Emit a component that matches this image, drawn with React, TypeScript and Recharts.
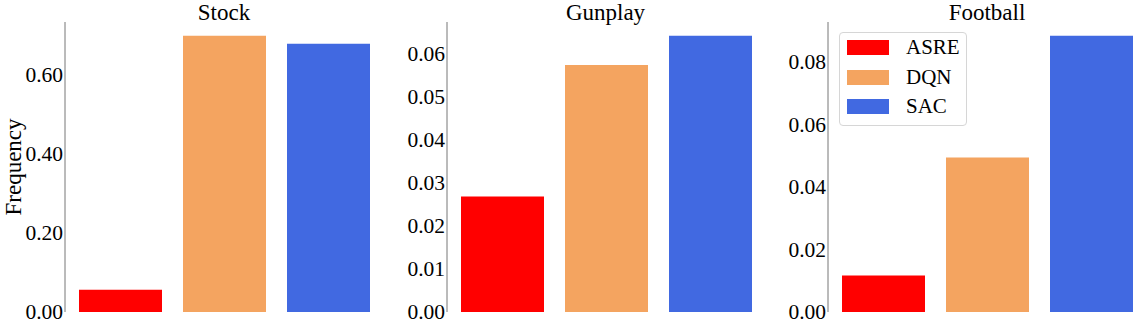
import React from 'react';
import { BarChart, Bar, XAxis, YAxis, Cell, Legend } from 'recharts';

const methods = ['ASRE', 'DQN', 'SAC'];
const methodColors = ['#ff0000', '#f4a460', '#4169e1'];

const panelTitles = ['Stock', 'Gunplay', 'Football'];
const stockValues = [0.0561, 0.697, 0.677];
const gunplayValues = [0.0268, 0.0573, 0.0641];
const footballValues = [0.0117, 0.0494, 0.0883];

const stockTicks = [0, 0.2, 0.4, 0.6];
const gunplayTicks = [0, 0.01, 0.02, 0.03, 0.04, 0.05, 0.06];
const footballTicks = [0, 0.02, 0.04, 0.06, 0.08];

const FONT = 'Liberation Serif, Times New Roman, serif';
const PLOT_W = 318;
const AXIS_W = 65;
const H = 323;

const panels = [
  { title: panelTitles[0], values: stockValues, ticks: stockTicks, left: 65, ylabel: true, legend: false },
  { title: panelTitles[1], values: gunplayValues, ticks: gunplayTicks, left: 446.5, ylabel: false, legend: false },
  { title: panelTitles[2], values: footballValues, ticks: footballTicks, left: 828, ylabel: false, legend: true },
];

const LegendBox = () => (
  <div
    style={{
      width: 126,
      height: 92,
      border: '1px solid #d6d6d6',
      borderRadius: 4,
      background: 'rgba(255,255,255,0.85)',
      fontFamily: FONT,
      fontSize: 21,
      color: '#000',
      boxSizing: 'content-box',
      position: 'relative',
    }}
  >
    {methods.map((m, i) => (
      <div key={m} style={{ position: 'absolute', left: 7, top: 7 + i * 29.7, height: 15, display: 'flex', alignItems: 'center' }}>
        <div style={{ width: 42, height: 15, background: methodColors[i] }} />
        <span style={{ marginLeft: 17, lineHeight: '15px' }}>{m}</span>
      </div>
    ))}
  </div>
);

const YTick = (props: any) => {
  const { x, y, payload } = props;
  return (
    <text x={x} y={y} dy="0.34em" textAnchor="end" fontFamily={FONT} fontSize={21.5} fill="#000">
      {Number(payload.value).toFixed(2)}
    </text>
  );
};

const Panel = ({ p }: { p: (typeof panels)[number] }) => {
  const data = methods.map((m, i) => ({ method: m, value: p.values[i] }));
  const chartLeft = p.left - AXIS_W;
  return (
    <div style={{ position: 'absolute', left: chartLeft, top: 0, width: AXIS_W + PLOT_W, height: H, fontFamily: FONT }}>
      <div
        style={{
          position: 'absolute',
          left: AXIS_W,
          width: PLOT_W,
          top: 0,
          lineHeight: 'normal',
          textAlign: 'center',
          fontFamily: FONT,
          fontSize: 23,
          color: '#000',
        }}
      >
        {p.title}
      </div>
      <BarChart width={AXIS_W + PLOT_W} height={H} data={data} margin={{ top: 22, right: 0, bottom: 11, left: 0 }}>
        <XAxis
          dataKey="method"
          height={0}
          tick={false}
          tickLine={false}
          axisLine={{ stroke: '#222', strokeWidth: 1 }}
          padding={{ left: 3, right: 3 }}
        />
        <YAxis
          width={AXIS_W}
          type="number"
          domain={[0, (max: number) => max * 1.05]}
          ticks={p.ticks}
          interval={0}
          tickLine={false}
          tickSize={0}
          tickMargin={2}
          axisLine={{ stroke: '#777', strokeWidth: 1 }}
          tick={YTick}
          label={
            p.ylabel
              ? {
                  content: (props: any) => {
                    const vb = props.viewBox || { x: 0, y: 22, height: 290 };
                    const x = vb.x + 20.5;
                    const y = vb.y + vb.height / 2;
                    return (
                      <text
                        x={x}
                        y={y}
                        transform={`rotate(-90 ${x} ${y})`}
                        textAnchor="middle"
                        fontFamily={FONT}
                        fontSize={23}
                        fill="#000"
                      >
                        Frequency
                      </text>
                    );
                  },
                }
              : undefined
          }
        />
        {p.legend && (
          <Legend
            layout="vertical"
            align="center"
            verticalAlign="middle"
            content={() => <LegendBox />}
            wrapperStyle={{ left: 839 - chartLeft, top: 32, width: 128, height: 94 }}
          />
        )}
        <Bar dataKey="value" barSize={83} isAnimationActive={false}>
          {data.map((d, i) => (
            <Cell key={d.method} fill={methodColors[i]} />
          ))}
        </Bar>
      </BarChart>
    </div>
  );
};

export default function App() {
  return (
    <div style={{ position: 'absolute', left: 0, top: 0, width: 1146, height: H, background: '#fff', overflow: 'hidden', fontFamily: FONT }}>
      {panels.map((p) => (
        <Panel key={p.title} p={p} />
      ))}
    </div>
  );
}
